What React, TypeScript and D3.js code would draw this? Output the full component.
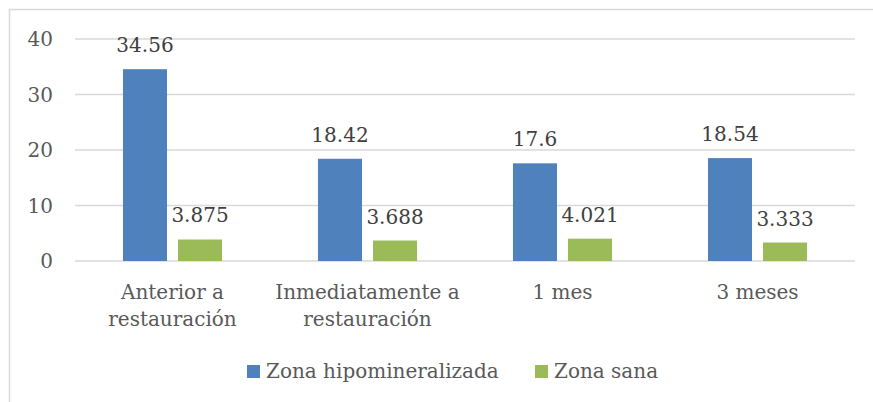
import * as React from 'react';
import * as d3 from 'd3';

const width = 873;
const height = 402;

const categories = [['Anterior a', 'restauración'], ['Inmediatamente a', 'restauración'], ['1 mes'], ['3 meses']];
const seriesNames = ['Zona hipomineralizada', 'Zona sana'];
const hipomineralizada = [34.56, 18.42, 17.6, 18.54];
const sana = [3.875, 3.688, 4.021, 3.333];
const labelsHipo = ['34.56', '18.42', '17.6', '18.54'];
const labelsSana = ['3.875', '3.688', '4.021', '3.333'];
const yTicks = [0, 10, 20, 30, 40];
const colors = ['#4f81bd', '#9bbb59'];

const font = '"DejaVu Serif", serif';

export default function App() {
  const plot = {left: 75, right: 855, top: 39, bottom: 261};

  const x0 = d3.scaleBand<number>()
    .domain(d3.range(categories.length))
    .range([plot.left, plot.right])
    .paddingInner(0.492)
    .paddingOuter(0.246);

  const x1 = d3.scaleBand<number>()
    .domain([0, 1])
    .range([0, x0.bandwidth()])
    .paddingInner(0.2);

  const y = d3.scaleLinear().domain([0, 40]).range([plot.bottom, plot.top]);

  const series = [hipomineralizada, sana];
  const labels = [labelsHipo, labelsSana];

  return (
    <svg width={width} height={height} style={{position: 'absolute', left: 0, top: 0, background: '#fff'}}>
      <rect x={9.5} y={9.5} width={900} height={500} fill="#fff" stroke="#d9d9d9" strokeWidth={1.5} />

      {yTicks.map(t => (
        <g key={t}>
          <line x1={plot.left} x2={plot.right} y1={y(t)} y2={y(t)} stroke="#d9d9d9" strokeWidth={1.5} />
          <text x={53} y={y(t)} dy="0.35em" textAnchor="end" fontFamily={font} fontSize={20} fill="#595959">{t}</text>
        </g>
      ))}

      {series.map((vals, si) => vals.map((v, ci) => {
        const bx = x0(ci)! + x1(si)!;
        return (
          <g key={`${si}-${ci}`}>
            <rect x={bx} y={y(v)} width={x1.bandwidth()} height={y(0) - y(v)} fill={colors[si]} />
            <text x={bx + x1.bandwidth() / 2} y={y(v) - 17} textAnchor="middle" fontFamily={font} fontSize={20} fill="#404040">
              {labels[si][ci]}
            </text>
          </g>
        );
      }))}

      {categories.map((lines, ci) => (
        <text key={ci} x={x0(ci)! + x0.bandwidth() / 2} y={299} textAnchor="middle" fontFamily={font} fontSize={20} fill="#595959">
          {lines.map((l, li) => (
            <tspan key={li} x={x0(ci)! + x0.bandwidth() / 2} dy={li === 0 ? 0 : 27}>{l}</tspan>
          ))}
        </text>
      ))}

      {seriesNames.map((name, i) => {
        const lx = i === 0 ? 247 : 535;
        return (
          <g key={name}>
            <rect x={lx} y={365} width={13} height={13} fill={colors[i]} />
            <text x={lx + 19} y={378} fontFamily={font} fontSize={20} fill="#595959">{name}</text>
          </g>
        );
      })}
    </svg>
  );
}
